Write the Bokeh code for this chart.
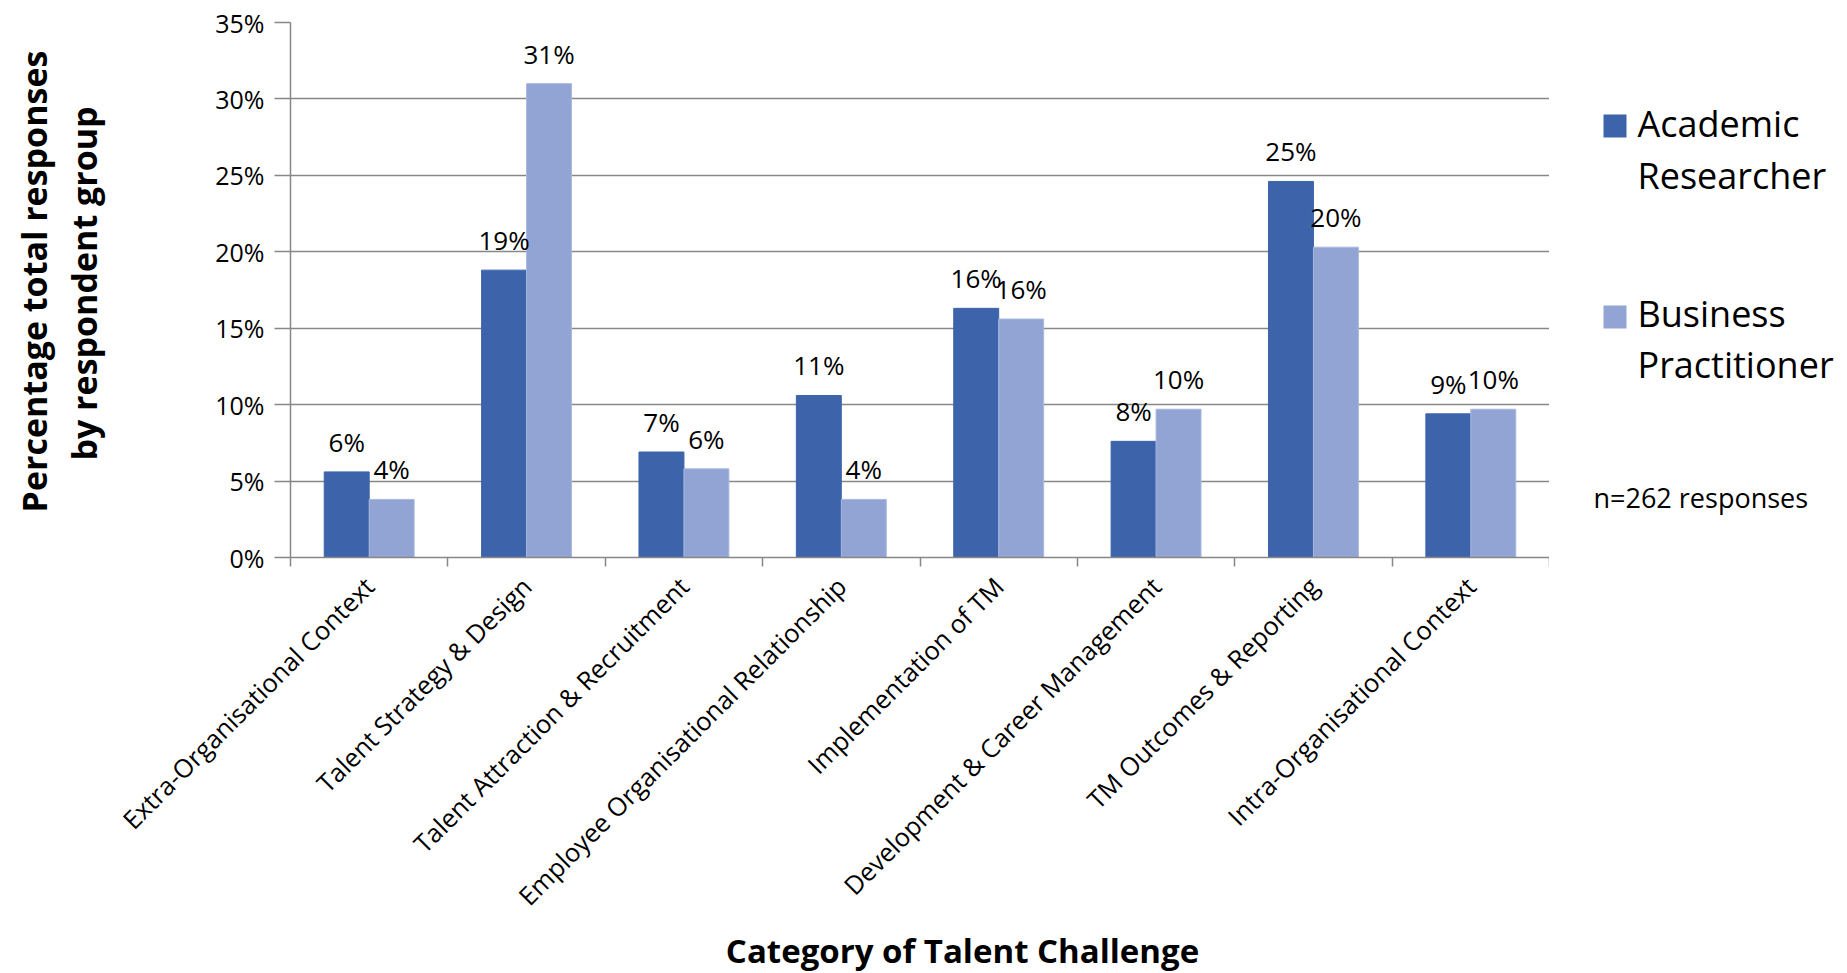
import math
import numpy as np
from bokeh.plotting import figure
from bokeh.layouts import row, column
from bokeh.models import (Range1d, FixedTicker, NumeralTickFormatter, Label,
                          BoxAnnotation, ColumnDataSource)
from bokeh.core.properties import value
from bokeh.embed import file_html
from bokeh.resources import INLINE

# ---- data ----
categories = [
    "Extra-Organisational Context",
    "Talent Strategy & Design",
    "Talent Attraction & Recruitment",
    "Employee Organisational Relationship",
    "Implementation of TM",
    "Development & Career Management",
    "TM Outcomes & Reporting",
    "Intra-Organisational Context",
]
academic = [0.056, 0.188, 0.069, 0.106, 0.163, 0.076, 0.246, 0.094]
business = [0.038, 0.310, 0.058, 0.038, 0.156, 0.097, 0.203, 0.097]
series_lines = [["Academic", "Researcher"], ["Business", "Practitioner"]]
y_ticks = [0.0, 0.05, 0.10, 0.15, 0.20, 0.25, 0.30, 0.35]
note = "n=262 responses"
x_title = "Category of Talent Challenge"
y_title_lines = ["Percentage total responses", "by respondent group"]

col_a = "#3d64ab"
col_b = "#91a4d4"
edge_b = "#a9b8df"
FONT = "Open Sans"
GRID = "#878787"

H = 973
LW, RW, BH = 110, 298, 46          # left strip, right strip, bottom strip sizes
MW = 1847 - LW - RW                # main figure width
MH = H - BH
FRAME_L, FRAME_T, FRAME_B = 290, 22, 557   # plot area on the page


def blank(w, h):
    f = figure(width=w, height=h, output_backend="svg", toolbar_location=None,
               x_axis_type=None, y_axis_type=None, min_border=0,
               x_range=Range1d(0, 1), y_range=Range1d(0, 1))
    f.outline_line_color = None
    f.grid.visible = False
    f.background_fill_color = "white"
    f.border_fill_color = "white"
    return f


# ---- main chart ----
p = figure(width=MW, height=MH, output_backend="svg", toolbar_location=None,
           x_range=Range1d(0, len(categories)), y_range=Range1d(0, 0.35),
           min_border_left=FRAME_L - LW, min_border_right=0,
           min_border_top=FRAME_T, min_border_bottom=MH - FRAME_B)
p.outline_line_color = None
p.background_fill_color = "white"
p.border_fill_color = "white"

idx = np.arange(len(categories))
centers = idx + 0.5
bw = 0.2857
src = ColumnDataSource(dict(
    xa=centers - bw / 2, xb=centers + bw / 2, a=academic, b=business,
    la=[f"{round(v * 100)}%" for v in academic],
    lb=[f"{round(v * 100)}%" for v in business],
))
p.vbar(x="xa", top="a", width=bw, source=src, fill_color=col_a, line_color=col_a)
p.vbar(x="xb", top="b", width=bw, source=src, fill_color=col_b, line_color=edge_b,
       line_width=1)

for xcol, ycol, lcol in (("xa", "a", "la"), ("xb", "b", "lb")):
    p.text(x=xcol, y=ycol, text=lcol, source=src, text_align="center",
           text_baseline="alphabetic", y_offset=-30, text_font=value(FONT),
           text_font_size="26px", text_color="black")

p.yaxis.ticker = FixedTicker(ticks=y_ticks)
p.yaxis.formatter = NumeralTickFormatter(format="0%")
p.yaxis.major_label_text_font = FONT
p.yaxis.major_label_text_font_size = "25px"
p.yaxis.major_label_text_color = "black"
p.yaxis.axis_line_color = GRID
p.yaxis.axis_line_width = 1.5
p.yaxis.major_tick_line_color = GRID
p.yaxis.major_tick_line_width = 1.5
p.yaxis.major_tick_out = 16
p.yaxis.major_tick_in = 0
p.yaxis.minor_tick_line_color = None
p.yaxis.major_label_standoff = 10

p.ygrid.ticker = FixedTicker(ticks=y_ticks)
p.ygrid.grid_line_color = GRID
p.ygrid.grid_line_width = 1.3
p.xgrid.grid_line_color = None

bounds = list(range(len(categories) + 1))
p.xaxis.ticker = FixedTicker(ticks=list(centers), minor_ticks=bounds)
p.xaxis.major_label_overrides = {float(c): cat for c, cat in zip(centers, categories)}
p.xaxis.major_label_orientation = math.pi / 4
p.xaxis.major_label_text_font = FONT
p.xaxis.major_label_text_font_size = "25.5px"
p.xaxis.major_label_text_color = "black"
p.xaxis.major_tick_line_color = None
p.xaxis.major_tick_out = 0
p.xaxis.major_tick_in = 0
p.xaxis.minor_tick_line_color = GRID
p.xaxis.minor_tick_line_width = 1.5
p.xaxis.minor_tick_out = 9
p.xaxis.minor_tick_in = 0
p.xaxis.axis_line_color = GRID
p.xaxis.axis_line_width = 1.5
p.xaxis.major_label_standoff = 15


def lab(f, fx, fy, fh, text, **kw):
    # fx: pixels from the strip frame's left; fy: pixels from the strip's top
    opts = dict(text_font=FONT, text_color="black")
    opts.update(kw)
    f.add_layout(Label(x=fx, y=fh - fy, x_units="screen", y_units="screen",
                       text=text, **opts))


# ---- left strip: y title ----
left = blank(LW, H)
lab(left, 33, 281, H, y_title_lines[0], angle=math.pi / 2, text_align="center",
    text_baseline="middle", text_font_style="bold", text_font_size="34px")
lab(left, 83, 283, H, y_title_lines[1], angle=math.pi / 2, text_align="center",
    text_baseline="middle", text_font_style="bold", text_font_size="34px")

# ---- bottom strip: x title (its frame is aligned with the main frame) ----
bottom = blank(MW, BH)
lab(bottom, 962 - FRAME_L, 950 - MH, BH, x_title, text_align="center",
    text_baseline="middle", text_font_style="bold", text_font_size="33px")

# ---- right strip: legend + note ----
right = blank(RW, H)
x0 = 1549
for (l1, l2), col, sq_top, base1, base2 in ((series_lines[0], col_a, 114, 123, 175),
                                            (series_lines[1], col_b, 305, 313, 364)):
    right.add_layout(BoxAnnotation(left=1603 - x0, right=1626 - x0,
                                   top=H - sq_top, bottom=H - sq_top - 23,
                                   left_units="screen", right_units="screen",
                                   top_units="screen", bottom_units="screen",
                                   fill_color=col, fill_alpha=1, line_color=None))
    lab(right, 1637 - x0, base1, H, l1, text_align="left",
        text_baseline="alphabetic", text_font_size="36px")
    lab(right, 1637 - x0, base2, H, l2, text_align="left",
        text_baseline="alphabetic", text_font_size="36px")
lab(right, 1593 - x0, 497, H, note, text_align="left", text_baseline="alphabetic",
    text_font_size="27px")

layout = row(left, column(p, bottom), right)
open("out.html", "w").write(file_html(layout, INLINE))
